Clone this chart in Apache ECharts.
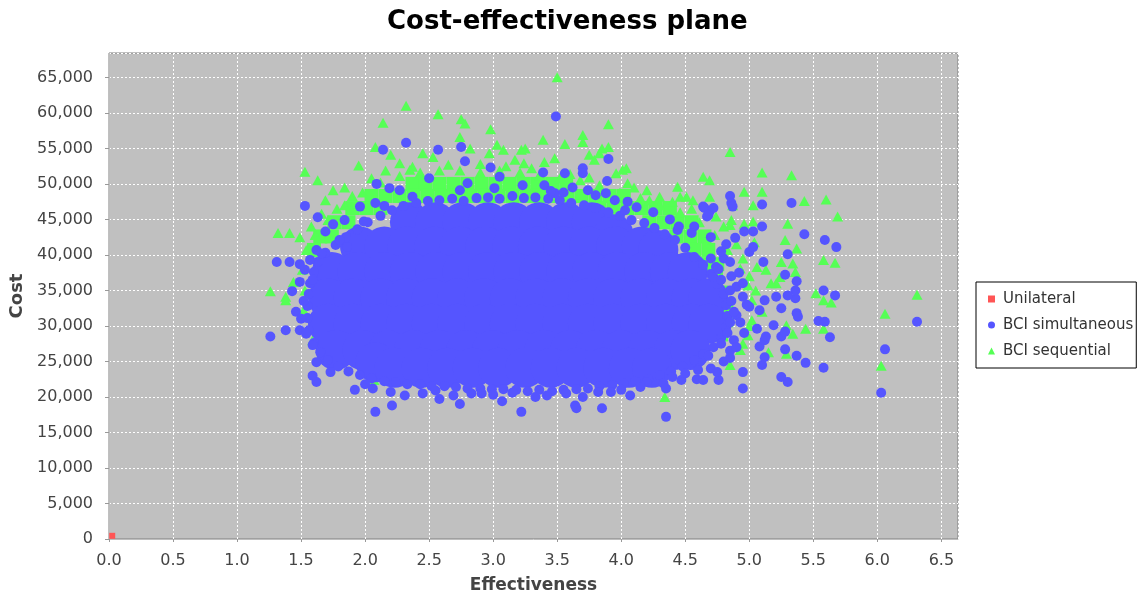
<!DOCTYPE html>
<html>
<head>
<meta charset="utf-8">
<title>Cost-effectiveness plane</title>
<script src="https://cdn.jsdelivr.net/npm/echarts/dist/echarts.min.js"></script>
<style>
  html, body { margin: 0; padding: 0; background: #fff; }
  #chart { width: 1146px; height: 599px; }
</style>
</head>
<body>
<div id="chart"></div>
<script>
// [effectiveness, cost] pairs

const unilateral = [[0.025, 450]];

// BCI simultaneous: the solid middle of the cloud (drawn with big dots)
const simDense = [
  [2.35,44600],[2.55,44600],[2.76,44600],[2.96,44600],[3.16,44600],[3.36,44600],[3.57,44600],[3.77,44600],[3.94,42900],
  [1.96,41200],[2.15,41200],[2.33,41200],[2.54,41200],[2.74,41200],[2.94,41200],[3.15,41200],[3.35,41200],[3.55,41200],[3.75,41200],[3.96,41200],[4.16,41200],[4.29,40700],
  [1.74,37600],[1.94,37600],[2.15,37600],[2.35,37600],[2.55,37600],[2.76,37600],[2.96,37600],[3.16,37600],[3.36,37600],[3.57,37600],[3.77,37600],[3.97,37600],[4.18,37600],[4.38,37600],[4.52,37600],
  [1.71,33900],[1.91,33900],[2.12,33900],[2.32,33900],[2.52,33900],[2.72,33900],[2.93,33900],[3.13,33900],[3.33,33900],[3.54,33900],[3.74,33900],[3.94,33900],[4.15,33900],[4.35,33900],[4.55,33900],[4.68,33900],
  [1.71,30300],[1.91,30300],[2.12,30300],[2.32,30300],[2.52,30300],[2.72,30300],[2.93,30300],[3.13,30300],[3.33,30300],[3.54,30300],[3.74,30300],[3.94,30300],[4.15,30300],[4.35,30300],[4.55,30300],[4.68,30300],
  [1.77,26600],[1.98,26600],[2.18,26600],[2.38,26600],[2.58,26600],[2.79,26600],[2.99,26600],[3.19,26600],[3.40,26600],[3.60,26600],[3.80,26600],[4.00,26600],[4.21,26600],[4.41,26600],[4.54,26600],
  [2.08,24900],[2.23,24100],[2.44,24100],[2.64,24100],[2.84,24100],[3.04,24100],[3.25,24100],[3.45,24100],[3.65,24100],[3.86,24100],[4.06,24100],[4.24,24100]
];

// BCI simultaneous: points along the edge of the dense cloud
const simEdge = [
  [1.56,29400],[1.55,31100],[1.55,32800],[1.56,34500],[1.57,36000],[1.60,37600],[1.63,39000],[1.69,40300],[1.77,41400],[1.85,42500],
  [1.94,43600],[2.02,44600],[2.12,45500],[2.21,46300],[2.30,46900],[2.40,47300],[2.49,47600],[2.58,47700],[2.68,47900],[2.77,47600],
  [2.87,48000],[2.96,48100],[3.05,47900],[3.15,48300],[3.24,48000],[3.33,48100],[3.43,47900],[3.52,47700],[3.61,47300],[3.71,47000],
  [3.80,46600],[3.90,46000],[3.99,45500],[4.08,44900],[4.18,44500],[4.26,43800],[4.34,42900],[4.42,42100],[4.50,41000],[4.57,39700],
  [4.64,38600],[4.70,37300],[4.75,35900],[4.80,34500],[4.82,32900],[4.83,31400],[4.82,29800],[4.78,28300],[4.72,27000],[4.64,26000],
  [4.57,25200],[4.48,24300],[4.39,23600],[4.30,23100],[4.21,22500],[4.11,22200],[4.02,21900],[3.93,21700],[3.83,21500],[3.74,21200],
  [3.65,21100],[3.55,21000],[3.46,20800],[3.36,21000],[3.27,20800],[3.18,21000],[3.08,21100],[2.99,21100],[2.90,21200],[2.80,21200],
  [2.71,21400],[2.62,21500],[2.52,21500],[2.43,21800],[2.33,21800],[2.24,22100],[2.15,22200],[2.05,22600],[1.96,23100],[1.87,23600],
  [1.79,24300],[1.71,25200],[1.65,26300],[1.60,27600]
];

// BCI simultaneous: scattered points around the cloud
const simPoints = [
  [2.32,55800],[2.14,54800],[2.57,54800],[2.75,55200],[2.78,53200],[2.98,52300],[3.39,51600],[2.50,50800],[2.09,50000],[1.53,46900],
  [1.63,45300],[1.69,43300],[1.31,39000],[1.41,39000],[1.49,38700],[1.43,34900],[2.19,49400],[2.27,49100],[2.37,48200],[1.96,46800],
  [2.08,47300],[2.15,46900],[1.75,44300],[1.84,44900],[1.99,44700],[2.74,49100],[2.80,50100],[3.01,49400],[3.05,51000],[3.23,49800],
  [3.40,49800],[1.62,40700],[1.57,39300],[1.66,40200],[1.80,42100],[1.86,41100],[1.53,37900],[1.49,36200],[1.59,36500],[1.26,28500],
  [1.38,29400],[1.46,32000],[1.49,29400],[1.54,28900],[1.59,27300],[1.62,24900],[1.59,23000],[1.62,22100],[1.73,23500],[1.92,21000],
  [2.06,21200],[2.08,17900],[2.21,18800],[2.31,20200],[2.45,20500],[2.58,19700],[2.74,19000],[2.69,20200],[2.83,20500],[2.91,20500],
  [3.07,19400],[3.22,17900],[3.33,20000],[3.42,20200],[3.57,20500],[3.64,18800],[3.65,18400],[3.85,18400],[3.82,20700],[3.92,20700],
  [4.07,20200],[4.35,17200],[4.20,22100],[4.33,21900],[4.40,22800],[4.47,22400],[4.59,22500],[4.35,21200],[3.49,59500],[3.90,53500],
  [3.56,51500],[3.70,52200],[3.70,51500],[3.89,50400],[3.48,48700],[3.74,49100],[3.88,48700],[4.05,47500],[4.03,46300],[4.65,46600],
  [4.69,46100],[4.67,45400],[4.85,48300],[5.10,47100],[5.33,47300],[5.43,42900],[5.59,42100],[5.68,41100],[4.89,42400],[4.96,43300],
  [5.03,43300],[5.10,44000],[4.44,43500],[4.57,44000],[5.30,40100],[5.37,36300],[5.58,35000],[5.67,34300],[5.54,30700],[5.59,30600],
  [5.63,28400],[6.31,30600],[6.06,26700],[6.03,20600],[5.58,24100],[5.44,24800],[5.37,25800],[5.28,26700],[5.25,28500],[5.28,29200],
  [5.37,31800],[5.38,31300],[5.36,33900],[5.36,35000],[5.28,37200],[5.25,22800],[5.30,22100],[4.95,21200],[4.76,22400],[4.64,22400],
  [4.95,23500],[5.10,24500],[5.12,25600],[5.08,27100],[5.12,28000],[5.06,29600],[5.13,28500],[5.19,30100],[5.25,32500],[5.21,34100],
  [5.30,34300],[5.11,39000],[5.00,40400],[5.03,41100],[5.12,33600],[5.08,32200],[4.95,34100],[5.00,32700],[4.90,31500],[4.74,38300],
  [4.72,36900],[4.64,46800],[4.72,46600],[4.68,45600],[4.86,47300],[4.87,46800],[3.45,49000],[3.55,48800],[3.62,49500],[3.80,48400],
  [3.95,47700],[4.12,46700],[4.25,46000],[4.38,45000],[4.45,44000],[4.55,43100],[4.80,39500],[4.86,37000],[4.90,35500],[4.88,28000],
  [4.85,26500],[4.80,25000],[4.70,24000],[1.50,31000],[1.52,33500],[2.00,21800],[2.20,20700],[2.55,20900],[3.00,20300],[3.15,20600],
  [3.70,20000],[4.00,21000],[4.15,21400],[4.50,23300],[4.60,23800],[4.78,40500],[4.85,39000],[4.92,37500],[4.95,36000],[4.98,33000],
  [4.93,30500],[4.96,29000],[4.90,27000],[4.85,25500],[4.75,23500],[4.82,41500],[4.70,42500],[4.70,39500],[4.76,38000],[4.78,36500],
  [4.85,35000],[4.86,33500],[4.88,32000],[4.85,30500],[4.83,29000],[4.78,27500],[4.68,25800]
];

// BCI sequential: the solid band that shows above and right of the blue cloud
const seqDense = [
  [2.37,50000],[2.47,50000],[2.58,50000],[2.69,50000],[2.80,50000],[2.91,50000],[3.02,50000],[3.13,50000],[3.24,50000],[3.35,50000],[3.46,50000],[3.57,50000],
  [2.05,48300],[2.16,48300],[2.27,48300],[2.38,48300],[2.49,48300],[2.60,48300],[2.71,48300],[2.82,48300],[2.93,48300],[3.04,48300],
  [3.15,48300],[3.26,48300],[3.36,48300],[3.47,48300],[3.58,48300],[3.69,48300],[3.80,48300],[3.91,48300],[4.02,48300],
  [1.90,46600],[2.01,46600],[2.12,46600],[3.83,46600],[3.94,46600],[4.05,46600],[4.16,46600],[4.27,46600],[4.38,46600],
  [1.76,44600],[1.87,44600],[4.22,44600],[4.33,44600],[4.44,44600],[4.55,44600],
  [1.65,42600],[1.74,42600],[4.43,42600],[4.54,42600],[4.65,42600],
  [1.60,40700],[4.57,40700],[4.68,40700],
  [4.66,38700],[4.75,38700],[4.74,36700],[4.78,34700],[4.82,32800],[4.82,30800],[4.78,28800]
];

// BCI sequential: single triangles
const seqPoints = [
  [2.32,61000],[2.57,59800],[2.75,59100],[2.78,58500],[2.14,58600],[2.98,57700],[3.39,56200],[2.08,55200],[2.20,54100],[1.95,52600],
  [2.16,51900],[1.53,51700],[1.63,50500],[1.75,49100],[1.84,49500],[2.27,52900],[2.37,52400],[2.45,54300],[2.53,53800],[2.74,56600],
  [2.82,55000],[2.97,54300],[3.03,55500],[3.08,54800],[3.22,54800],[3.25,55000],[3.17,53400],[3.24,52900],[3.40,53100],[1.69,47700],
  [1.32,43100],[1.41,43100],[1.49,42500],[1.26,34900],[1.44,36200],[1.38,34100],[3.50,65000],[3.90,58400],[3.70,56900],[3.70,55900],
  [3.56,55600],[3.48,53600],[3.85,55000],[3.90,55200],[3.75,54100],[3.79,53400],[4.04,52200],[4.05,50100],[4.85,54500],[5.10,51600],
  [5.33,51200],[4.64,51000],[4.69,50500],[4.44,49600],[4.46,48200],[4.96,48900],[5.10,48900],[5.43,47600],[5.60,47800],[5.69,45400],
  [5.30,44400],[5.28,42100],[4.86,44900],[4.85,44200],[4.96,44400],[5.03,44700],[4.69,48200],[4.74,45400],[4.20,49100],[4.30,48200],
  [4.22,47700],[4.51,48200],[4.56,47700],[3.83,54300],[3.96,51500],[4.01,52000],[4.87,47000],[5.03,47000],[5.37,40900],[5.58,39300],
  [5.67,38900],[5.25,39000],[5.34,38800],[5.36,37600],[5.21,36000],[5.52,34600],[5.58,33600],[5.64,33300],[5.44,29600],[5.58,29600],
  [6.06,31700],[6.31,34400],[6.03,24400],[5.29,26100],[5.34,28900],[5.29,30100],[5.13,37900],[5.24,36900],[5.17,36000],[5.04,41800],
  [5.06,38300],[1.84,47000],[1.98,48800],[2.12,50200],[2.27,51100],[2.43,51600],[2.58,51900],[2.74,51900],[2.90,51600],[3.05,51900],
  [3.21,51600],[3.36,51200],[3.52,50800],[3.68,50500],[3.83,49800],[3.99,48800],[4.15,48000],[4.30,47000],[4.46,46000],[4.61,44600],
  [4.73,42800],[4.83,40700],[4.93,38100],[4.99,35700],[5.02,33600],[5.02,30800],[4.99,28700],[4.93,26600],[4.85,24500],[1.71,44900],
  [1.61,42800],[1.54,40700],[1.51,37900],[1.53,35000],[1.38,33600],[1.52,32200],[1.59,28000],[1.76,28500],[2.07,22400],[4.34,20000],
  [2.05,50800],[2.35,52000],[2.65,52700],[2.90,52800],[3.10,52500],[3.30,52200],[3.60,51400],[3.75,50900],[1.90,48300],[1.78,46500],
  [1.66,45800],[1.58,44000],[4.10,49500],[4.40,47500],[4.55,46500],[4.80,44000],[4.90,41500],[4.95,39500],[5.00,37000],[5.05,35000],
  [5.10,32000],[5.00,30000],[4.95,27500],[5.15,26300]
];

const fontFam = '"DejaVu Sans", Verdana, sans-serif';
const RED = '#ff5555', BLUE = '#5555ff', GREEN = '#55ff55';

const myChart = echarts.init(document.getElementById('chart'));

const option = {
  animation: false,
  backgroundColor: '#ffffff',
  title: {
    text: 'Cost-effectiveness plane',
    left: 387,
    top: 9,
    padding: 0,
    textStyle: { fontFamily: fontFam, fontSize: 26, fontWeight: 'bold', color: '#000' }
  },
  legend: {
    orient: 'vertical',
    left: 976,
    top: 282,
    padding: [9, 3, 9, 12],
    itemGap: 10,
    itemWidth: 7,
    itemHeight: 7,
    backgroundColor: '#fff',
    borderColor: '#000',
    borderWidth: 1,
    borderRadius: 0,
    textStyle: { fontFamily: fontFam, fontSize: 15, color: '#333', lineHeight: 16, padding: [0, 0, 0, 3] },
    data: [
      { name: 'Unilateral', icon: 'rect' },
      { name: 'BCI simultaneous', icon: 'circle' },
      { name: 'BCI sequential', icon: 'triangle' }
    ]
  },
  grid: {
    left: 109, right: 188, top: 53, bottom: 60,
    show: true,
    backgroundColor: '#c0c0c0',
    borderColor: '#808080',
    borderWidth: 1
  },
  xAxis: {
    type: 'value',
    min: 0, max: 6.63, interval: 0.5,
    offset: 5,
    name: 'Effectiveness',
    nameLocation: 'middle',
    nameGap: 33,
    nameTextStyle: { fontFamily: fontFam, fontSize: 17, fontWeight: 'bold', color: '#444' },
    axisLine: { show: true, lineStyle: { color: '#bdbdbd', width: 1 } },
    axisTick: { show: true, length: 3, lineStyle: { color: '#999' } },
    axisLabel: {
      fontFamily: fontFam, fontSize: 16, color: '#444', margin: 9,
      showMaxLabel: false,
      formatter: v => v.toFixed(1)
    },
    splitLine: { show: true, lineStyle: { color: '#ffffff', width: 1, type: [2, 2] } }
  },
  yAxis: {
    type: 'value',
    min: 0, max: 68430, interval: 5000,
    offset: 5,
    name: 'Cost',
    nameLocation: 'middle',
    nameGap: 74,
    nameTextStyle: { fontFamily: fontFam, fontSize: 18, fontWeight: 'bold', color: '#444' },
    axisLine: { show: true, lineStyle: { color: '#bdbdbd', width: 1 } },
    axisTick: { show: true, length: 4, lineStyle: { color: '#999' } },
    axisLabel: {
      fontFamily: fontFam, fontSize: 16, color: '#444', margin: 11,
      showMaxLabel: false,
      formatter: v => v.toLocaleString('en-US')
    },
    splitLine: { show: true, lineStyle: { color: '#ffffff', width: 1, type: [2, 2] } }
  },
  series: [
    { name: 'BCI sequential', type: 'scatter', symbol: 'rect', symbolSize: 14,
      data: seqDense, itemStyle: { color: GREEN, opacity: 1 }, z: 2, silent: true },
    { name: 'BCI sequential', type: 'scatter', symbol: 'triangle', symbolSize: [11, 10],
      data: seqPoints, itemStyle: { color: GREEN, opacity: 1 }, z: 3 },
    { name: 'BCI simultaneous', type: 'scatter', symbol: 'circle', symbolSize: 40,
      data: simDense, itemStyle: { color: BLUE, opacity: 1 }, z: 4, silent: true },
    { name: 'BCI simultaneous', type: 'scatter', symbol: 'circle', symbolSize: 10,
      data: simEdge.concat(simPoints), itemStyle: { color: BLUE, opacity: 1 }, z: 5 },
    { name: 'Unilateral', type: 'scatter', symbol: 'rect', symbolSize: 6,
      data: unilateral, itemStyle: { color: RED, opacity: 1 }, z: 6 }
  ]
};

myChart.setOption(option);
</script>
</body>
</html>
